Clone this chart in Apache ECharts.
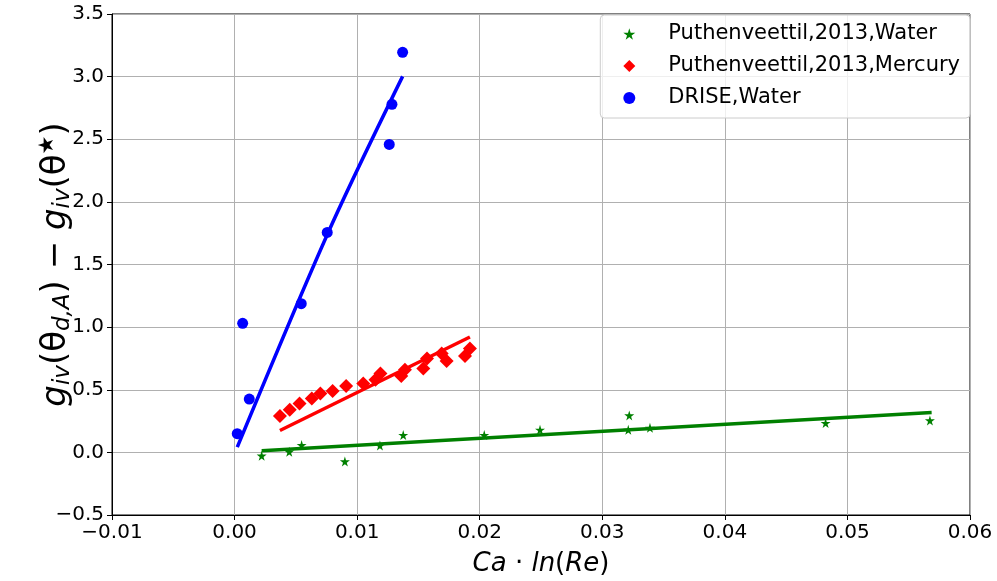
<!DOCTYPE html>
<html>
<head>
<meta charset="utf-8">
<script src="https://cdn.jsdelivr.net/npm/echarts@6/dist/echarts.min.js"></script>
<style>
  html, body { margin: 0; padding: 0; background: #fff; }
  #chart { width: 997px; height: 581px; }
</style>
</head>
<body>
<div id="chart"></div>
<script>
// data: [Ca*ln(Re), g_iv(theta_dA) - g_iv(theta*)]
const waterPts = [
  [0.00221, -0.027], [0.00446, 0.005], [0.00547, 0.058], [0.0090, -0.073],
  [0.01186, 0.055], [0.01376, 0.138], [0.02037, 0.138], [0.02492, 0.180],
  [0.0322, 0.295], [0.03212, 0.180], [0.03389, 0.196], [0.04822, 0.234],
  [0.05673, 0.255]
];
const mercuryPts = [
  [0.0037, 0.29], [0.0045, 0.34], [0.0053, 0.39], [0.0063, 0.43],
  [0.0070, 0.47], [0.0080, 0.49], [0.0091, 0.53], [0.0105, 0.55],
  [0.0115, 0.58], [0.0119, 0.63], [0.0136, 0.61], [0.0139, 0.66],
  [0.0154, 0.67], [0.0157, 0.75], [0.0169, 0.79], [0.0173, 0.73],
  [0.0188, 0.77], [0.0192, 0.83]
];
const drisePts = [
  [0.00022, 0.149], [0.00066, 1.03], [0.0012, 0.426], [0.00544, 1.187],
  [0.00756, 1.756], [0.01262, 2.459], [0.01284, 2.779], [0.01371, 3.194]
];
// fitted lines (end points)
const waterFit = [[0.00221, 0.013], [0.05687, 0.319]];
const mercuryFit = [[0.0037, 0.175], [0.0192, 0.921]];
const driseFit = [[0.00022, 0.042], [0.00764, 1.756], [0.01371, 3.002]];

const seriesNames = ["Puthenveettil,2013,Water", "Puthenveettil,2013,Mercury", "DRISE,Water"];
const xTicks = { min: -0.01, max: 0.06, step: 0.01 };
const yTicks = { min: -0.5, max: 3.5, step: 0.5 };

const starPath = "path://M50,0 L61,35 L98,35 L68,57 L79,91 L50,70 L21,91 L32,57 L2,35 L39,35 Z";
const FONT = "DejaVu Sans";

const fmt = (v, d) => {
  if (Math.abs(v) < 1e-9) v = 0;
  return v.toFixed(d).replace("-", "\u2212");
};

const chart = echarts.init(document.getElementById("chart"), null, { renderer: "canvas" });

const axisCommon = {
  axisLine: { show: true, onZero: false, lineStyle: { color: "#000", width: 1 } },
  axisTick: { show: true, inside: false, length: 5, lineStyle: { color: "#000" } },
  splitLine: { show: true, lineStyle: { color: "#b0b0b0", width: 1 } },
};

const option = {
  animation: false,
  backgroundColor: "#fff",
  grid: {
    left: 112, right: 27, top: 14, bottom: 66,
    containLabel: false, outerBoundsMode: "none",
    show: true, borderColor: "#000", borderWidth: 1, backgroundColor: "transparent"
  },
  legend: {
    data: [
      { name: seriesNames[0], icon: starPath },
      { name: seriesNames[1], icon: "diamond" },
      { name: seriesNames[2], icon: "circle" }
    ],
    orient: "vertical",
    right: 27, top: 15,
    padding: [8, 10, 9, 23],
    itemWidth: 12, itemHeight: 12, itemGap: 10,
    backgroundColor: "rgba(255,255,255,0.8)",
    borderColor: "#cccccc", borderWidth: 1, borderRadius: 4,
    textStyle: { fontFamily: FONT, fontSize: 21, lineHeight: 22, color: "#000", padding: [0, 0, 0, 28] }
  },
  xAxis: Object.assign({}, axisCommon, {
    type: "value",
    min: xTicks.min, max: xTicks.max, interval: xTicks.step,
    axisLabel: { fontFamily: FONT, fontSize: 20, color: "#000", margin: 8, formatter: v => fmt(v, 2) },
    name: "{i|Ca}{n| \u00b7 }{i|ln}{n|(}{i|Re}{n|)}",
    nameLocation: "middle", nameGap: 36, nameMoveOverlap: false,
    nameTextStyle: {
      rich: {
        i: { fontFamily: FONT, fontStyle: "italic", fontSize: 26, color: "#000" },
        n: { fontFamily: FONT, fontSize: 26, color: "#000" }
      }
    }
  }),
  yAxis: Object.assign({}, axisCommon, {
    type: "value",
    min: yTicks.min, max: yTicks.max, interval: yTicks.step,
    axisLabel: { fontFamily: FONT, fontSize: 20, color: "#000", margin: 8, formatter: v => fmt(v, 1) },
    name: "{i|g}{s|iv}{n|(\u03b8}{s|d,A}{n|) \u2212 }{i|g}{s|iv}{n|(\u03b8}{p|\u2605}{n|)}",
    nameLocation: "middle", nameGap: 37, nameRotate: 90, nameMoveOverlap: false,
    nameTextStyle: {
      rich: {
        i: { fontFamily: FONT, fontStyle: "italic", fontSize: 34, lineHeight: 38, color: "#000" },
        n: { fontFamily: FONT, fontSize: 34, lineHeight: 38, color: "#000" },
        s: { fontFamily: FONT, fontStyle: "italic", fontSize: 23, lineHeight: 18, verticalAlign: "bottom", color: "#000" },
        p: { fontFamily: FONT, fontSize: 21, lineHeight: 18, verticalAlign: "top", color: "#000" }
      }
    }
  }),
  series: [
    {
      name: seriesNames[0], type: "scatter", data: waterPts,
      symbol: starPath, symbolSize: 10, itemStyle: { color: "#008000", opacity: 1 }, z: 2
    },
    {
      name: seriesNames[1], type: "scatter", data: mercuryPts,
      symbol: "diamond", symbolSize: 14, itemStyle: { color: "#ff0000", opacity: 1 }, z: 2
    },
    {
      name: seriesNames[2], type: "scatter", data: drisePts,
      symbol: "circle", symbolSize: 11, itemStyle: { color: "#0000ff", opacity: 1 }, z: 2
    },
    {
      type: "line", data: waterFit, showSymbol: false, silent: true,
      lineStyle: { color: "#008000", width: 3.5 }, z: 3
    },
    {
      type: "line", data: mercuryFit, showSymbol: false, silent: true,
      lineStyle: { color: "#ff0000", width: 3.5 }, z: 3
    },
    {
      type: "line", data: driseFit, showSymbol: false, silent: true, smooth: 0.3,
      lineStyle: { color: "#0000ff", width: 3.5 }, z: 3
    }
  ]
};

chart.setOption(option);
</script>
</body>
</html>
